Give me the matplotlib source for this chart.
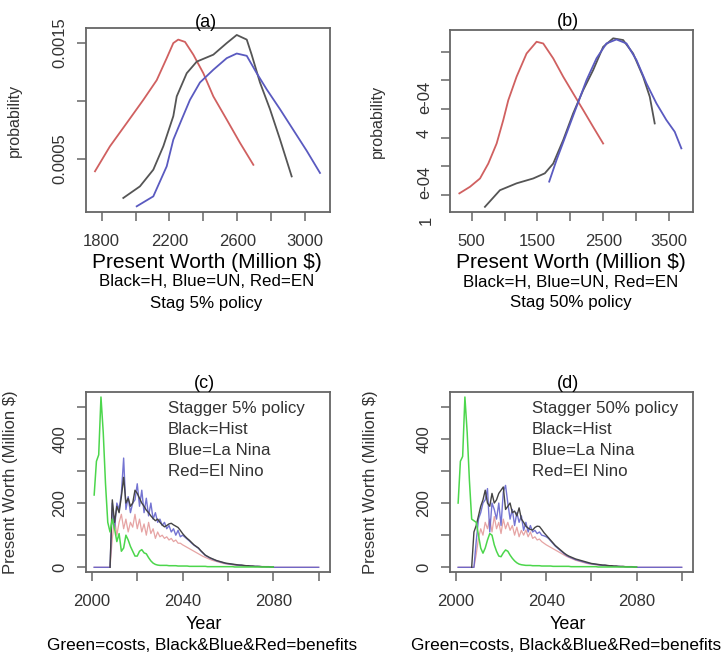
import numpy as np
import matplotlib
matplotlib.use("Agg")
import matplotlib.pyplot as plt

plt.rcParams["font.family"] = ["Liberation Sans", "DejaVu Sans"]

# colours (R black/blue/red/green as they look in the figure)
c_hist = "#444444"
c_lanina = "#5c5cca"
c_elnino = "#d06060"
c_elnino_light = "#e6a4a4"
c_cost = "#4cd64c"

# ---------------- panel (a): Stag 5% policy densities
a_red_x = [1761, 1849, 1948, 2046, 2125, 2184, 2223, 2252, 2292, 2341, 2400, 2459, 2538, 2616, 2695]
a_red_y = [0.000394, 0.000609, 0.00081, 0.00101, 0.00118, 0.00137, 0.0015, 0.00153, 0.00151,
           0.0014, 0.00124, 0.00104, 0.00084, 0.00064, 0.00045]
a_black_x = [1928, 2026, 2105, 2164, 2223, 2243, 2302, 2361, 2459, 2538, 2597, 2656, 2685,
             2734, 2793, 2852, 2921]
a_black_y = [0.000164, 0.000264, 0.000408, 0.00061, 0.00087, 0.00104, 0.00124, 0.00134, 0.0014,
             0.0015, 0.00157, 0.00153, 0.0014, 0.00116, 0.00093, 0.00067, 0.00035]
a_blue_x = [2007, 2105, 2184, 2223, 2272, 2321, 2380, 2459, 2538, 2597, 2656, 2715, 2774,
            2852, 2931, 3010, 3088]
a_blue_y = [0.000092, 0.000178, 0.000437, 0.000667, 0.00084, 0.00101, 0.00116, 0.00127, 0.00137,
            0.00141, 0.00139, 0.00124, 0.0011, 0.00093, 0.00075, 0.00057, 0.00038]

# ---------------- panel (b): Stag 50% policy densities
b_red_x = [313, 475, 627, 753, 880, 981, 1057, 1183, 1335, 1487, 1588, 1740, 1892, 2043,
           2195, 2347, 2499]
b_red_y = [1.06e-4, 1.29e-4, 1.58e-4, 2.10e-4, 2.80e-4, 3.62e-4, 4.31e-4, 5.13e-4, 5.94e-4,
           6.35e-4, 6.29e-4, 5.77e-4, 5.13e-4, 4.55e-4, 3.97e-4, 3.38e-4, 2.80e-4]
b_black_x = [702, 930, 1183, 1436, 1613, 1740, 1892, 2043, 2195, 2347, 2499, 2651, 2803,
             2955, 3107, 3208, 3283]
b_black_y = [0.59e-4, 1.17e-4, 1.41e-4, 1.58e-4, 1.76e-4, 2.10e-4, 2.92e-4, 3.85e-4, 4.66e-4,
             5.36e-4, 6.17e-4, 6.47e-4, 6.41e-4, 5.94e-4, 5.13e-4, 4.43e-4, 3.50e-4]
b_blue_x = [1679, 1790, 1942, 2094, 2246, 2398, 2549, 2701, 2854, 3006, 3157, 3309, 3460,
            3587, 3688]
b_blue_y = [1.47e-4, 2.22e-4, 3.15e-4, 4.08e-4, 5.01e-4, 5.77e-4, 6.29e-4, 6.43e-4, 6.29e-4,
            5.71e-4, 4.90e-4, 4.20e-4, 3.62e-4, 3.21e-4, 2.63e-4]

# ---------------- panels (c), (d): yearly present worth, 2001-2100
years = np.arange(2001, 2101)
N = None

c_green = [225, 330, 350, 530, 420, 260, 140, 110, 150, 120,
           80, 105, 50, 60, 100, 85, 65, 50, 35, 35,
           50, 55, 45, 42, 30, 20, 13, 9, 7, 6,
           6, 6, 6, 5, 5, 5, 5, 4, 4, 4,
           4, 4, 3, 3, 3, 3, 3, 3, 3, 3,
           2, 2, 2, 2, 2, 2, 2, 2, 2, 2,
           2, 2, 1, 1, 1, 1, 1, 1, 1, 1,
           1, 1, 1, 1, 1, 1, 1, 1, 1, 1,
           N, N, N, N, N, N, N, N, N, N,
           N, N, N, N, N, N, N, N, N, N]
c_black = [N, N, N, N, N, N, N, 0, 210, 140,
           190, 170, 220, 280, 200, 215, 190, 200, 240, 230,
           215, 200, 190, 178, 170, 160, 152, 145, 150, 140,
           132, 126, 130, 135, 137, 132, 128, 124, 115, 105,
           97, 90, 84, 77, 70, 65, 60, 52, 45, 38,
           34, 30, 27, 24, 21, 19, 17, 15, 13, 12,
           11, 10, 9, 8, 7, 7, 6, 5, 5, 4,
           4, 3, 3, 3, 2, 2, 2, 2, 1, 1,
           N, N, N, N, N, N, N, N, N, N,
           N, N, N, N, N, N, N, N, N, N]
c_blue = [0, 0, 0, 0, 0, 0, 0, 0, 200, 120,
          200, 180, 230, 340, 180, 220, 170, 200, 210, 260,
          190, 240, 170, 215, 160, 200, 150, 170, 140, 150,
          130, 140, 120, 130, 110, 120, 100, 115, 95, 100,
          94, 88, 82, 75, 69, 64, 59, 51, 44, 37,
          33, 29, 26, 23, 20, 18, 16, 14, 12, 11,
          10, 9, 8, 7, 7, 6, 5, 5, 4, 4,
          3, 3, 3, 2, 2, 2, 1, 1, 1, 0,
          0, 0, 0, 0, 0, 0, 0, 0, 0, 0,
          0, 0, 0, 0, 0, 0, 0, 0, 0, 0]
c_red = [0, 0, 0, 0, 0, 0, 0, 0, 90, 150,
         100, 140, 165, 120, 150, 110, 140, 125, 165, 120,
         150, 110, 135, 100, 140, 105, 120, 90, 110, 95,
         100, 90, 95, 85, 90, 80, 85, 75, 75, 70,
         66, 62, 58, 54, 50, 46, 42, 38, 34, 31,
         28, 25, 22, 20, 18, 16, 14, 12, 11, 10,
         9, 8, 7, 6, 6, 5, 4, 4, 3, 3,
         3, 2, 2, 2, 1, 1, 1, 1, 0, 0,
         0, 0, 0, 0, 0, 0, 0, 0, 0, 0,
         0, 0, 0, 0, 0, 0, 0, 0, 0, 0]

d_green = [200, 330, 345, 530, 420, 270, 150, 145, 140, 100,
           60, 44, 60, 85, 105, 100, 70, 50, 35, 33,
           45, 54, 50, 38, 28, 20, 14, 10, 8, 7,
           6, 6, 6, 5, 5, 5, 5, 4, 4, 4,
           4, 4, 3, 3, 3, 3, 3, 3, 3, 3,
           2, 2, 2, 2, 2, 2, 2, 2, 2, 2,
           2, 2, 1, 1, 1, 1, 1, 1, 1, 1,
           1, 1, 1, 1, 1, 1, 1, 1, 1, 1,
           N, N, N, N, N, N, N, N, N, N,
           N, N, N, N, N, N, N, N, N, N]
d_black = [N, N, N, N, N, N, 0, 110, 130, 160,
           190, 210, 240, 200, 190, 230, 200, 210, 230, 240,
           250, 180, 190, 200, 170, 175, 160, 185, 150, 140,
           128, 122, 118, 116, 124, 128, 127, 118, 108, 100,
           92, 84, 76, 68, 62, 56, 50, 44, 39, 35,
           32, 29, 26, 24, 22, 20, 18, 16, 14, 12,
           11, 10, 9, 8, 7, 7, 6, 5, 5, 4,
           4, 3, 3, 3, 2, 2, 2, 2, 1, 1,
           N, N, N, N, N, N, N, N, N, N,
           N, N, N, N, N, N, N, N, N, N]
d_blue = [0, 0, 0, 0, 0, 0, 0, 0, 80, 150,
          170, 200, 210, 245, 110, 200, 180, 150, 200, 130,
          235, 255, 200, 150, 180, 130, 170, 140, 160, 115,
          140, 110, 130, 110, 115, 105, 110, 100, 98, 95,
          90, 82, 74, 66, 60, 54, 48, 42, 37, 33,
          30, 27, 24, 22, 20, 18, 16, 14, 12, 11,
          10, 9, 8, 7, 6, 6, 5, 4, 4, 3,
          3, 3, 2, 2, 2, 1, 1, 1, 1, 0,
          0, 0, 0, 0, 0, 0, 0, 0, 0, 0,
          0, 0, 0, 0, 0, 0, 0, 0, 0, 0]
d_red = [0, 0, 0, 0, 0, 0, 0, 0, 40, 90,
         120, 100, 140, 120, 150, 110, 158, 120, 140, 105,
         150, 120, 140, 115, 130, 100, 125, 95, 115, 100,
         116, 95, 110, 90, 95, 85, 88, 80, 75, 70,
         66, 62, 58, 54, 50, 46, 42, 38, 34, 31,
         28, 25, 22, 20, 18, 16, 14, 12, 11, 10,
         9, 8, 7, 6, 6, 5, 4, 4, 3, 3,
         3, 2, 2, 2, 1, 1, 1, 1, 0, 0,
         0, 0, 0, 0, 0, 0, 0, 0, 0, 0,
         0, 0, 0, 0, 0, 0, 0, 0, 0, 0]

# tick values / labels
a_xticks = [1800, 2000, 2200, 2400, 2600, 2800, 3000]
a_xlabels = ["1800", "", "2200", "", "2600", "", "3000"]
a_yticks = [0.0005, 0.0010, 0.0015]
a_ylabels = ["0.0005", "", "0.0015"]
b_xticks = [500, 1000, 1500, 2000, 2500, 3000, 3500]
b_xlabels = ["500", "", "1500", "", "2500", "", "3500"]
b_yticks = [1e-4, 2e-4, 3e-4, 4e-4, 5e-4, 6e-4]
b_ylabel_pos = [4.42e-4, 3.16e-4, 1.45e-4]
b_ylabel_txt = ["e-04", "4", "e-04"]
yr_ticks = [2000, 2020, 2040, 2060, 2080, 2100]
yr_labels = ["2000", "", "2040", "", "2080", ""]
pw_ticks = [0, 100, 200, 300, 400, 500]
pw_labels = ["0", "", "200", "", "400", ""]

W, H = 723, 657
fig = plt.figure(figsize=(W / 100, H / 100), dpi=100)


def make_ax(left, top, right, bottom):
    ax = fig.add_axes([left / W, 1 - bottom / H, (right - left) / W, (bottom - top) / H])
    for s in ax.spines.values():
        s.set_color("#666666")
        s.set_linewidth(1.3)
    ax.tick_params(direction="out", length=6.5, width=1.1, color="#666666",
                   labelsize=12, labelcolor="#333333")
    ax.tick_params(axis="x", pad=9)
    ax.tick_params(axis="y", pad=7, labelrotation=90)
    return ax


def finish_y(ax):
    for lbl in ax.get_yticklabels(which="both"):
        lbl.set_va("center")


# ---------- (a)
ax = make_ax(86, 28, 330, 212)
ax.plot(a_red_x, a_red_y, color=c_elnino, lw=1.3)
ax.plot(a_black_x, a_black_y, color="#555555", lw=1.3)
ax.plot(a_blue_x, a_blue_y, color="#5a5ac0", lw=1.3)
ax.set_xlim(1708, 3147)
ax.set_ylim(0.000043, 0.00163)
ax.set_xticks(a_xticks, a_xlabels)
ax.set_yticks(a_yticks, a_ylabels)
finish_y(ax)
ax.set_ylabel("probability", fontsize=11.5, color="#333333")
ax.yaxis.set_label_coords(-64 / 244, 0.5)
ax.text(0.49, 1.03, "(a)", transform=ax.transAxes, ha="center", va="center", fontsize=13)
ax.text(0.494, -0.272, "Present Worth (Million $)", transform=ax.transAxes,
        ha="center", va="center", fontsize=15)
ax.text(0.494, -0.380, "Black=H, Blue=UN, Red=EN", transform=ax.transAxes,
        ha="center", va="center", fontsize=12.2)
ax.text(0.494, -0.495, "Stag 5% policy", transform=ax.transAxes,
        ha="center", va="center", fontsize=12.2)

# ---------- (b)
ax = make_ax(450, 30, 693, 212)
ax.plot(b_red_x, b_red_y, color=c_elnino, lw=1.3)
ax.plot(b_black_x, b_black_y, color="#555555", lw=1.3)
ax.plot(b_blue_x, b_blue_y, color="#5a5ac0", lw=1.3)
ax.set_xlim(171, 3865)
ax.set_ylim(0.41e-4, 6.76e-4)
ax.set_xticks(b_xticks, b_xlabels)
ax.set_yticks(b_yticks, [""] * len(b_yticks))
ax.set_yticks(b_ylabel_pos, b_ylabel_txt, minor=True)
ax.tick_params(axis="y", which="minor", length=0, pad=13, labelrotation=90, labelsize=12,
               labelcolor="#333333")
finish_y(ax)
ax.text(-24 / 243, -0.044, "1", transform=ax.transAxes, rotation=90, ha="center",
        va="center", fontsize=12, color="#333333")
ax.set_ylabel("probability", fontsize=11.5, color="#333333")
ax.yaxis.set_label_coords(-65 / 243, 0.5)
ax.text(0.486, 1.044, "(b)", transform=ax.transAxes, ha="center", va="center", fontsize=13)
ax.text(0.498, -0.275, "Present Worth (Million $)", transform=ax.transAxes,
        ha="center", va="center", fontsize=15)
ax.text(0.498, -0.385, "Black=H, Blue=UN, Red=EN", transform=ax.transAxes,
        ha="center", va="center", fontsize=12.2)
ax.text(0.498, -0.50, "Stag 50% policy", transform=ax.transAxes,
        ha="center", va="center", fontsize=12.2)


# ---------- (c) and (d)
def year_panel(left, right, green, black, blue, red, title, policy, ylab_off):
    ax = make_ax(left, 392, right, 572)
    g = np.array(green, dtype=float)
    k = np.array(black, dtype=float)
    b = np.array(blue, dtype=float)
    r = np.array(red, dtype=float)
    ax.plot(years, r, color=c_elnino_light, lw=0.9)
    ax.plot(years, b, color=c_lanina, lw=1.0, alpha=0.85)
    ax.plot(years, k, color=c_hist, lw=1.0)
    ax.plot(years, g, color=c_cost, lw=1.1)
    ax.set_xlim(1997.4, 2105)
    ax.set_ylim(-14.6, 545.6)
    ax.set_xticks(yr_ticks, yr_labels)
    ax.set_yticks(pw_ticks, pw_labels)
    finish_y(ax)
    ax.set_ylabel("Present Worth (Million $)", fontsize=12, color="#333333")
    ax.yaxis.set_label_coords(ylab_off, 0.5)
    ax.text(0.487, 1.045, title, transform=ax.transAxes, ha="center", va="center", fontsize=13)
    for i, line in enumerate([policy, "Black=Hist", "Blue=La Nina", "Red=El Nino"]):
        ax.text(0.336, 0.911 - i * 0.118, line, transform=ax.transAxes,
                ha="left", va="center", fontsize=12.2, color="#333333")
    ax.text(0.484, -0.294, "Year", transform=ax.transAxes, ha="center", va="center",
            fontsize=13)
    ax.text(0.477, -0.406, "Green=costs, Black&Blue&Red=benefits", transform=ax.transAxes,
            ha="center", va="center", fontsize=12.4)
    return ax


year_panel(86, 330, c_green, c_black, c_blue, c_red, "(c)", "Stagger 5% policy", -68 / 244)
year_panel(450, 693, d_green, d_black, d_blue, d_red, "(d)", "Stagger 50% policy", -72 / 243)

fig.savefig("out.png", dpi=100)
plt.close(fig)
